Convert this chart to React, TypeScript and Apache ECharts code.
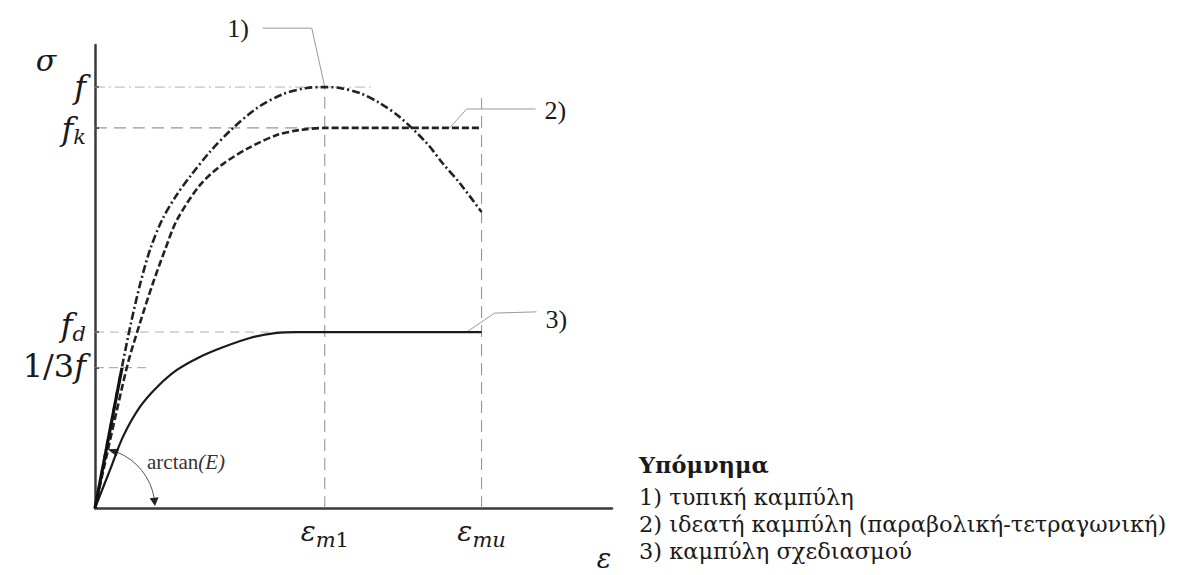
import React, { useEffect, useRef } from "react";
import * as echarts from "echarts";

// Characteristic strain / stress levels (normalised units: f = 1)
const EPS_M1 = 2.0;
const EPS_MU = 3.365;
const F = 1.0;
const F_K = 0.903;
const F_D = 0.418;
const F_THIRD = F / 3;

const X_MAX = 4.5;
const Y_MAX = 1.1;

// 1) typical stress-strain curve
const CURVE_TYPICAL: number[][] = [
  [0, 0], [0.235, 0.335], [0.313, 0.439], [0.391, 0.53], [0.478, 0.613],
  [0.583, 0.684], [0.704, 0.741], [0.843, 0.793], [1.0, 0.846], [1.191, 0.9],
  [1.409, 0.95], [1.635, 0.983], [1.843, 0.998], [2.0, 1.0], [2.13, 0.998],
  [2.304, 0.986], [2.478, 0.962], [2.652, 0.929], [2.887, 0.867], [3.026, 0.819],
  [3.174, 0.772], [3.365, 0.703],
];

// 2) idealised curve (parabola-rectangle)
const CURVE_IDEAL: number[][] = [
  [0, 0], [0.278, 0.335], [0.391, 0.439], [0.504, 0.534], [0.609, 0.613],
  [0.713, 0.684], [0.913, 0.767], [1.113, 0.817], [1.348, 0.857], [1.583, 0.886],
  [1.783, 0.898], [2.0, 0.903], [3.365, 0.903],
];

// 3) design curve
const CURVE_DESIGN: number[][] = [
  [0, 0], [0.13, 0.09], [0.243, 0.169], [0.391, 0.24], [0.539, 0.287],
  [0.713, 0.328], [0.913, 0.359], [1.113, 0.382], [1.348, 0.404], [1.583, 0.416],
  [1.757, 0.418], [3.365, 0.418],
];

// secant modulus E up to f/3
const TANGENT: number[][] = [[0, 0], [0.235, F_THIRD]];

// dashed reference lines
const GUIDE_F: number[][] = [[0, F], [2.4, F]];
const GUIDE_FK: number[][] = [[0, F_K], [EPS_M1, F_K]];
const GUIDE_FD: number[][] = [[0, F_D], [1.75, F_D]];
const GUIDE_THIRD: number[][] = [[0, F_THIRD], [0.46, F_THIRD]];
const GUIDE_M1: number[][] = [[EPS_M1, 0], [EPS_M1, F]];
const GUIDE_MU: number[][] = [[EPS_MU, 0], [EPS_MU, 0.974]];

// leader lines to the curve numbers
const LEADER_1: number[][] = [[1.461, 1.14], [1.887, 1.14], [EPS_M1, F]];
const LEADER_2: number[][] = [[3.835, 0.948], [3.235, 0.948], [3.087, F_K]];
const LEADER_3: number[][] = [[3.843, 0.466], [3.478, 0.463], [3.235, F_D]];
const LEADER_TEXTS = ["1)", "2)", "3)"];

const Y_TICKS = [F_THIRD, F_D, F_K, F];
const Y_TICK_LABELS = ["{n|1/3}{m|f}", "{m|f}{s|d}", "{m|f}{s|k}", "{m|f}"];
const X_TICKS = [EPS_M1, EPS_MU];
const X_TICK_LABELS = ["{e|ε}{s|m}{sn|1}", "{e|ε}{s|mu}"];

const LEGEND_TITLE = "Υπόμνημα";
const LEGEND_ITEMS = [
  "1) τυπική καμπύλη",
  "2) ιδεατή καμπύλη (παραβολική-τετραγωνική)",
  "3) καμπύλη σχεδιασμού",
];

const INK = "#1a1a1a";
const MATH_FONT = "'DejaVu Serif', serif";
const TEXT_FONT = "'DejaVu Serif', serif";
const FIG_FONT = "'Liberation Serif', 'Times New Roman', serif";

// rich styles for symbols with lowered subscripts (color for labels, fill for graphics)
const mathRich = {
  m: { fontFamily: MATH_FONT, fontStyle: "italic", fontSize: 32, lineHeight: 30, color: INK, fill: INK },
  e: { fontFamily: MATH_FONT, fontStyle: "italic", fontSize: 28, lineHeight: 30, color: INK, fill: INK },
  n: { fontFamily: MATH_FONT, fontSize: 32, lineHeight: 30, color: INK, fill: INK },
  s: {
    fontFamily: MATH_FONT, fontStyle: "italic", fontSize: 21, lineHeight: 8,
    verticalAlign: "bottom", padding: [0, 0, -4, 0], color: INK, fill: INK,
  },
  sn: {
    fontFamily: MATH_FONT, fontSize: 21, lineHeight: 8,
    verticalAlign: "bottom", padding: [0, 0, -4, 0], color: INK, fill: INK,
  },
};

function nearestIndex(list: number[], v: number) {
  let best = 0;
  list.forEach((t, i) => {
    if (Math.abs(t - v) < Math.abs(list[best] - v)) best = i;
  });
  return best;
}

function line(
  name: string,
  data: number[][],
  color: string,
  width: number,
  type: any,
  z: number
) {
  return {
    name,
    type: "line",
    data,
    smooth: 0.3,
    showSymbol: false,
    symbol: "none",
    z,
    lineStyle: { color, width, type, cap: "butt" },
    silent: true,
  };
}

function leader(
  name: string,
  data: number[][],
  text: string,
  position: string,
  distance: number,
  offset: number[]
) {
  return {
    name,
    type: "line",
    clip: false,
    z: 1,
    symbol: "circle",
    symbolSize: 0,
    showSymbol: true,
    silent: true,
    lineStyle: { color: "#9a9a9a", width: 1 },
    itemStyle: { color: "#9a9a9a" },
    data: data.map((p, i) =>
      i === 0
        ? {
            value: p,
            label: {
              show: true,
              position,
              distance,
              offset,
              formatter: text,
              fontFamily: FIG_FONT,
              fontSize: 26,
              color: INK,
            },
          }
        : { value: p }
    ),
  };
}

export default function App() {
  const ref = useRef<HTMLDivElement>(null);

  useEffect(() => {
    const chart = echarts.init(ref.current!, null, { renderer: "svg" });
    chart.setOption({
      animation: false,
      backgroundColor: "#ffffff",
      grid: { left: 95, right: 578, top: 45, bottom: 67, outerBoundsMode: "none" },
      xAxis: {
        type: "value",
        min: 0,
        max: X_MAX,
        splitLine: { show: false },
        axisLine: { show: true, onZero: false, lineStyle: { color: "#3a3a3a", width: 2.5 } },
        axisTick: { show: false },
        axisLabel: {
          customValues: X_TICKS,
          margin: 8,
          hideOverlap: false,
          showMinLabel: true,
          showMaxLabel: true,
          formatter: (v: number) => X_TICK_LABELS[nearestIndex(X_TICKS, v)],
          rich: mathRich,
        },
      },
      yAxis: {
        type: "value",
        min: 0,
        max: Y_MAX,
        splitLine: { show: false },
        axisLine: { show: true, onZero: false, lineStyle: { color: "#3a3a3a", width: 2.5 } },
        axisTick: {
          show: true,
          inside: true,
          length: 4,
          customValues: Y_TICKS,
          lineStyle: { color: "#3a3a3a", width: 2 },
        },
        // the stacked symbol labels are placed as texts below, so none get culled
        axisLabel: { show: false },
      },
      series: [
        line("guide-f", GUIDE_F, "#b0b0b0", 1, [10, 4, 2, 4], 1),
        line("guide-fk", GUIDE_FK, "#7a7a7a", 1, [12, 7], 1),
        line("guide-fd", GUIDE_FD, "#b0b0b0", 1, [9, 6], 1),
        line("guide-third", GUIDE_THIRD, "#9a9a9a", 1, [9, 5], 1),
        line("guide-m1", GUIDE_M1, "#8a8a8a", 1, [12, 7], 1),
        line("guide-mu", GUIDE_MU, "#8a8a8a", 1, [12, 7], 1),
        leader("leader-1", LEADER_1, LEADER_TEXTS[0], "left", 14, [0, 0]),
        leader("leader-2", LEADER_2, LEADER_TEXTS[1], "right", 9, [0, 2]),
        leader("leader-3", LEADER_3, LEADER_TEXTS[2], "right", 9, [0, 8]),
        line("typical", CURVE_TYPICAL, "#222222", 2.6, [8, 3, 2, 3], 3),
        line("ideal", CURVE_IDEAL, "#222222", 2.6, [7, 3], 3),
        line("design", CURVE_DESIGN, "#1a1a1a", 2.2, "solid", 4),
        line("secant", TANGENT, "#111111", 3.2, "solid", 5),
      ],
    });

    // annotations placed from the axis scales
    const px = (p: number[]) => chart.convertToPixel({ gridIndex: 0 }, p) as number[];
    const [cx, cy] = px([0, 0]);
    const top = px([0, Y_MAX]);
    const end = px([X_MAX, 0]);
    const tEnd = px(TANGENT[1]);
    const r = 60;
    const thetaT = Math.atan2(tEnd[1] - cy, tEnd[0] - cx);
    const onArc = (a: number) => [cx + r * Math.cos(a), cy + r * Math.sin(a)];
    const arrow = (tip: number[], from: number[], half: number) => {
      const dx = tip[0] - from[0];
      const dy = tip[1] - from[1];
      const l = Math.hypot(dx, dy) || 1;
      const nx = -dy / l;
      const ny = dx / l;
      return [tip, [from[0] + nx * half, from[1] + ny * half], [from[0] - nx * half, from[1] - ny * half]];
    };
    const arcStart = thetaT + 0.2;
    const arcEnd = -0.17;
    const tipA = onArc(thetaT + 0.02);
    const baseA = onArc(arcStart);
    const tipB = [cx + r, cy - 2];
    const baseB = onArc(arcEnd);

    // small vertical nudges keep the two lower symbols apart
    const yNudge = [-2, -7, 1, 0];
    const yLabels = Y_TICKS.map((v, i) => ({
      type: "text",
      silent: true,
      x: cx - 9,
      y: px([0, v])[1] + yNudge[i],
      style: {
        text: Y_TICK_LABELS[i],
        align: "right",
        verticalAlign: "middle",
        rich: mathRich,
      },
    }));

    const legendText = (text: string, y: number, bold = false) => ({
      type: "text",
      x: 639,
      y,
      silent: true,
      style: {
        text,
        fontFamily: TEXT_FONT,
        fontSize: 22.5,
        fontWeight: bold ? "bold" : "normal",
        fill: INK,
        verticalAlign: "middle",
        align: "left",
      },
    });

    chart.setOption({
      graphic: [
        {
          type: "arc",
          silent: true,
          shape: { cx, cy, r, startAngle: arcStart, endAngle: arcEnd, clockwise: true },
          style: { stroke: "#555555", lineWidth: 1, fill: "none" },
        },
        { type: "polygon", silent: true, shape: { points: arrow(tipA, baseA, 4) }, style: { fill: "#222222" } },
        { type: "polygon", silent: true, shape: { points: arrow(tipB, baseB, 4.5) }, style: { fill: "#222222" } },
        {
          type: "text",
          silent: true,
          x: cx + 52,
          y: cy - 46,
          style: {
            text: "{a|arctan}{b|(E)}",
            verticalAlign: "middle",
            rich: {
              a: { fontFamily: FIG_FONT, fontSize: 21, fill: "#333333" },
              b: { fontFamily: FIG_FONT, fontSize: 21, fontStyle: "italic", fill: "#333333" },
            },
          },
        },
        ...yLabels,
        {
          type: "text",
          silent: true,
          x: top[0] - 49,
          y: top[1] + 15,
          style: {
            text: "σ",
            fontFamily: MATH_FONT,
            fontStyle: "italic",
            fontSize: 30,
            fill: INK,
            align: "center",
            verticalAlign: "middle",
          },
        },
        {
          type: "text",
          silent: true,
          x: end[0] - 8,
          y: end[1] + 50,
          style: {
            text: "ε",
            fontFamily: MATH_FONT,
            fontStyle: "italic",
            fontSize: 27,
            fill: INK,
            align: "center",
            verticalAlign: "middle",
          },
        },
        legendText(LEGEND_TITLE, 465, true),
        ...LEGEND_ITEMS.map((t, i) => legendText(t, 497 + i * 27, false)),
      ],
    });

    return () => chart.dispose();
  }, []);

  return (
    <div
      ref={ref}
      style={{ position: "fixed", left: 0, top: 0, width: 1190, height: 575, background: "#fff" }}
    />
  );
}
